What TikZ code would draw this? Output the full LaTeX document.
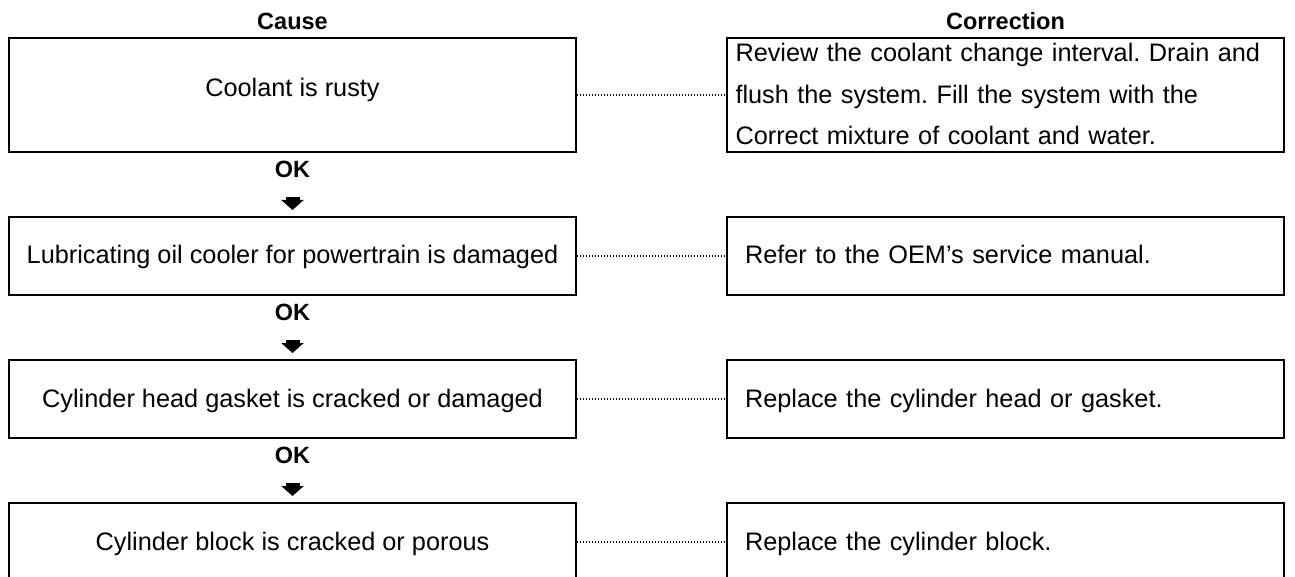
\documentclass[tikz,border=0pt]{standalone}
\usepackage{fontspec}
\setmainfont{Liberation Sans}
\usetikzlibrary{arrows.meta}
\frenchspacing
\begin{document}
\begin{tikzpicture}[x=1pt,y=-1pt,
  bodyfont/.style={font=\fontsize{25.3pt}{41.5pt}\selectfont\frenchspacing},
  headfont/.style={font=\fontsize{23.5pt}{28pt}\selectfont\bfseries},
  cellbox/.style={draw, line width=1.8pt, rectangle, inner sep=0pt, bodyfont,
                  text height=18pt, text depth=2pt, minimum height=78pt},
  causebox/.style={cellbox, minimum width=567pt, align=center},
  fixbox/.style={cellbox, minimum width=557pt, text width=521pt, align=left},
  dotline/.style={line width=1.6pt, dash pattern=on 1.5pt off 1.5pt},
  okarrow/.style={line width=14pt, -{Triangle[width=22pt,length=10pt]},
                  shorten <=44.1pt, shorten >=6.1pt},
  oklabel/.style={headfont, anchor=base, inner sep=0pt, line width=0.4pt},
  headlabel/.style={headfont, anchor=base, inner sep=0pt}
]
\useasboundingbox (0,0) rectangle (1295,577);
\clip (0,0) rectangle (1295,577);

% column headings
\node[headlabel] (hcause) at (292.5,30) {Cause};
\node[headlabel] (hcorr) at (1005.5,30) {Correction};

% cause boxes
\node[causebox, minimum height=114pt, text height=18pt, text depth=14pt] (l1) at (292.5,95) {Coolant is rusty};
\node[causebox] (l2) at (292.5,256) {Lubricating oil cooler for powertrain is damaged};
\node[causebox] (l3) at (292.5,399) {Cylinder head gasket is cracked or damaged};
\node[causebox] (l4) at (292.5,542) {Cylinder block is cracked or porous};

% correction boxes
\node[fixbox, minimum height=114pt, text width=540pt, text height=20pt, text depth=86pt] (r1) at (1005.5,95)
  {\makebox[540pt][s]{Review the coolant change interval. Drain and}\\flush the system. Fill the system with the\\Correct mixture of coolant and water.};
\node[fixbox] (r2) at (1005.5,256) {Refer to the OEM’s service manual.};
\node[fixbox] (r3) at (1005.5,399) {Replace the cylinder head or gasket.};
\node[fixbox] (r4) at (1005.5,542) {Replace the cylinder block.};

% dotted links
\draw[dotline] (l1.east) -- (r1.west);
\draw[dotline] (l2.east) -- (r2.west);
\draw[dotline] (l3.east) -- (r3.west);
\draw[dotline] (l4.east) -- (r4.west);

% OK arrows
\draw[okarrow] (l1.south) -- node[oklabel, pos=0.397] (ok1) {OK} (l2.north);
\draw[okarrow] (l2.south) -- node[oklabel, pos=0.397] (ok2) {OK} (l3.north);
\draw[okarrow] (l3.south) -- node[oklabel, pos=0.397] (ok3) {OK} (l4.north);
\end{tikzpicture}
\end{document}
